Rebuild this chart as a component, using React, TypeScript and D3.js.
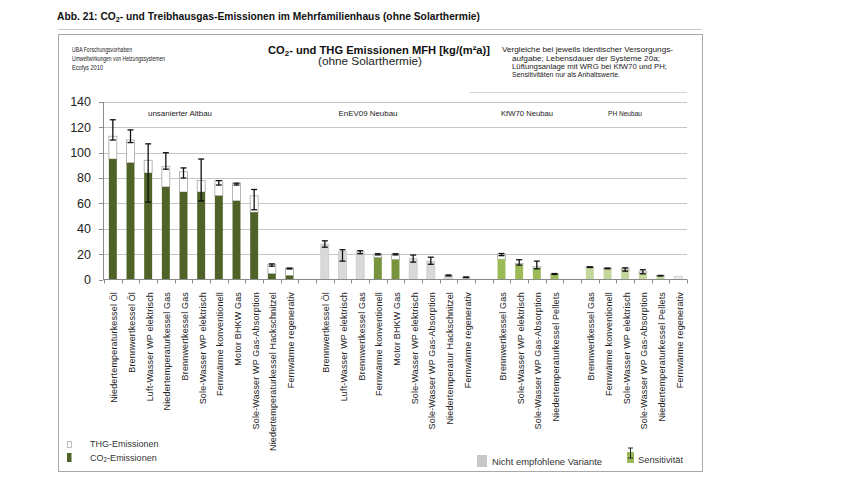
import React from "react";
import * as d3 from "d3";

// ---------- data ----------
const groupNames = ["unsanierter Altbau", "EnEV09 Neubau", "KfW70 Neubau", "PH Neubau"];

const altbauCats = [
  "Niedertemperaturkessel Öl",
  "Brennwertkessel Öl",
  "Luft-Wasser WP elektrisch",
  "Niedertemperaturkessel Gas",
  "Brennwertkessel Gas",
  "Sole-Wasser WP elektrisch",
  "Fernwärme konventionell",
  "Motor BHKW Gas",
  "Sole-Wasser WP Gas-Absorption",
  "Niedertemperaturkessel Hackschnitzel",
  "Fernwärme regenerativ",
];
const altbauCO2 = [95, 92, 84, 73, 69, 69, 66, 62, 53, 4.5, 3];
const altbauTHG = [113, 110, 94, 89, 85, 78, 78, 76, 66, 12, 9];
const altbauErrLo = [110, 108, 61, 87, 80, 62, 74.5, 74.5, 55, 10.5, 8.3];
const altbauErrHi = [126, 118, 107, 100, 88, 95, 78, 76, 71, 12.3, 9];
const altbauKind = ["dark", "dark", "dark", "dark", "dark", "dark", "dark", "dark", "dark", "dark", "dark"];

const enevCats = [
  "Brennwertkessel Öl",
  "Luft-Wasser WP elektrisch",
  "Brennwertkessel Gas",
  "Fernwärme konventionell",
  "Motor BHKW Gas",
  "Sole-Wasser WP elektrisch",
  "Sole-Wasser WP Gas-Absorption",
  "Niedertemperatur Hackschnitzel",
  "Fernwärme regenerativ",
];
const enevCO2 = [28, 22, 22, 17.2, 15.6, 16.5, 14.5, 3.2, 1.8];
const enevTHG = [28, 22, 22, 20, 20, 16.5, 14.5, 3.2, 1.8];
const enevErrLo = [25.5, 14.5, 20.3, 19.4, 19.4, 13.7, 12, 2.8, 1.5];
const enevErrHi = [30.5, 23.5, 22.7, 20.3, 20.3, 19.3, 17.6, 3.6, 2];
const enevKind = ["gray", "gray", "gray", "mid", "mid", "gray", "gray", "gray", "gray"];

const kfwCats = [
  "Brennwertkessel Gas",
  "Sole-Wasser WP elektrisch",
  "Sole-Wasser WP Gas-Absorption",
  "Niedertemperaturkessel Pellets",
];
const kfwCO2 = [16, 11.5, 9, 3.5];
const kfwTHG = [20, 12.5, 10, 4.5];
const kfwErrLo = [18.8, 11.4, 8.4, 4];
const kfwErrHi = [20.5, 15.6, 14.5, 4.7];
const kfwKind = ["light", "light", "light", "light"];

const phCats = [
  "Brennwertkessel Gas",
  "Fernwärme konventionell",
  "Sole-Wasser WP elektrisch",
  "Sole-Wasser WP Gas-Absorption",
  "Niedertemperaturkessel Pellets",
  "Fernwärme regenerativ",
];
const phCO2 = [9, 8, 7.5, 5, 2.5, 2.6];
const phTHG = [10, 9, 8.5, 6, 3, 2.6];
const phErrLo = [9.5, 8.5, 6.6, 4.5, 2.8, NaN];
const phErrHi = [10, 9, 9.2, 7.7, 3.2, NaN];
const phKind = ["pale", "pale", "pale", "pale", "pale", "white"];

const yTicks = [0, 20, 40, 60, 80, 100, 120, 140];

// ---------- build slots ----------
type Slot = {
  key: string;
  group: number;
  cat?: string;
  co2?: number;
  thg?: number;
  lo?: number;
  hi?: number;
  kind?: string;
};

const groupData = [
  [altbauCats, altbauCO2, altbauTHG, altbauErrLo, altbauErrHi, altbauKind],
  [enevCats, enevCO2, enevTHG, enevErrLo, enevErrHi, enevKind],
  [kfwCats, kfwCO2, kfwTHG, kfwErrLo, kfwErrHi, kfwKind],
  [phCats, phCO2, phTHG, phErrLo, phErrHi, phKind],
] as any[];

const slots: Slot[] = [];
groupData.forEach((g: any[], gi: number) => {
  if (gi > 0) slots.push({ key: `gap${gi}`, group: -1 });
  (g[0] as string[]).forEach((c, i) => {
    slots.push({
      key: `${gi}-${i}`,
      group: gi,
      cat: c,
      co2: g[1][i],
      thg: g[2][i],
      lo: g[3][i],
      hi: g[4][i],
      kind: g[5][i],
    });
  });
});

const fills: Record<string, string> = {
  dark: "#4f6228",
  mid: "#77933c",
  light: "#9bbb59",
  pale: "#c3d69b",
  gray: "#d9d9d9",
  white: "#ececec",
};

const FONT = "'Liberation Sans', Arial, sans-serif";

export default function App() {
  const x0 = 104;
  const x1 = 687;
  const x = d3
    .scaleBand<string>()
    .domain(slots.map((s) => s.key))
    .range([x0, x1])
    .paddingInner(0.55)
    .paddingOuter(0.275);
  const y = d3.scaleLinear().domain([0, 140]).range([279.5, 102]);
  const step = x.step();
  const bw = x.bandwidth();

  const groupLabelPos = [
    { x: 180, w: 64 },
    { x: 368, w: 59 },
    { x: 527, w: 52 },
    { x: 625, w: 34 },
  ];

  return (
    <svg
      width={864}
      height={500}
      style={{ position: "absolute", left: 0, top: 0, display: "block", background: "#fff" }}
      fontFamily={FONT}
    >
      {/* document title */}
      <text x={57} y={20} fontSize={10} fontWeight="bold" fill="#111" textLength={423} lengthAdjust="spacingAndGlyphs">
        Abb. 21: CO<tspan fontSize={7} dy={2}>2</tspan>
        <tspan dy={-2}>- und Treibhausgas-Emissionen im Mehrfamilienhaus (ohne Solarthermie)</tspan>
      </text>
      <line x1={58} x2={702} y1={29.5} y2={29.5} stroke="#c8c8c8" strokeWidth={1} />

      {/* frame */}
      <rect x={58.5} y={34.5} width={644} height={437} fill="none" stroke="#a8a8a8" strokeWidth={1} />

      {/* left header */}
      <g fontSize={7} fill="#222">
        <text x={72} y={52} textLength={60} lengthAdjust="spacingAndGlyphs">UBA Forschungsvorhaben</text>
        <text x={72} y={61} textLength={93} lengthAdjust="spacingAndGlyphs">Umweltwirkungen von Heizungssystemen</text>
        <text x={72} y={70} textLength={31} lengthAdjust="spacingAndGlyphs">Ecofys 2010</text>
      </g>

      {/* chart title */}
      <text x={268} y={54} fontSize={10.5} fontWeight="bold" fill="#111" textLength={222} lengthAdjust="spacingAndGlyphs">
        CO<tspan fontSize={7.5} dy={2}>2</tspan>
        <tspan dy={-2}>- und THG Emissionen MFH [kg/(m²a)]</tspan>
      </text>
      <text x={370} y={65} fontSize={10.5} fill="#222" textAnchor="middle" textLength={104} lengthAdjust="spacingAndGlyphs">
        (ohne Solarthermie)
      </text>

      {/* right notes */}
      <g fontSize={6.8} fill="#222">
        <text x={502} y={52} textLength={171} lengthAdjust="spacingAndGlyphs">Vergleiche bei jeweils identischer  Versorgungs-</text>
        <text x={512} y={60.5} textLength={148} lengthAdjust="spacingAndGlyphs">aufgabe; Lebensdauer   der Systeme   20a;</text>
        <text x={512} y={68.5} textLength={155} lengthAdjust="spacingAndGlyphs">Lüftungsanlage   mit WRG bei KfW70 und PH;</text>
        <text x={512} y={76.5} textLength={108} lengthAdjust="spacingAndGlyphs">Sensitivitäten nur als Anhaltswerte.</text>
      </g>
      <line x1={470} x2={687} y1={92.5} y2={92.5} stroke="#d4d4d4" strokeWidth={1} />

      {/* gridlines and y axis */}
      {yTicks.map((t) => (
        <g key={t}>
          {t > 0 && (
            <line x1={103} x2={x1} y1={Math.round(y(t)) + 0.5} y2={Math.round(y(t)) + 0.5} stroke="#c6c6c6" strokeWidth={1} />
          )}
          <line x1={99} x2={103} y1={Math.round(y(t)) + 0.5} y2={Math.round(y(t)) + 0.5} stroke="#8a8a8a" />
          <text x={91} y={y(t)} dy="0.35em" textAnchor="end" fontSize={12.5} fill="#222">
            {t}
          </text>
        </g>
      ))}
      <line x1={103.5} x2={103.5} y1={y(140)} y2={y(0)} stroke="#8a8a8a" />

      {/* group labels */}
      {groupNames.map((g, i) => (
        <text
          key={g}
          x={groupLabelPos[i].x}
          y={116}
          fontSize={7.3}
          fill="#222"
          textAnchor="middle"
          textLength={groupLabelPos[i].w}
          lengthAdjust="spacingAndGlyphs"
        >
          {g}
        </text>
      ))}

      {/* bars */}
      {slots
        .filter((s) => s.cat)
        .map((s) => {
          const bx = x(s.key)!;
          const cx = bx + bw / 2;
          const isGray = s.kind === "gray" || s.kind === "white";
          return (
            <g key={s.key}>
              {isGray ? (
                <rect
                  x={bx}
                  y={y(s.thg!)}
                  width={bw}
                  height={y(0) - y(s.thg!)}
                  fill={fills[s.kind!]}
                  stroke="#c4c4c4"
                  strokeWidth={0.7}
                />
              ) : (
                <>
                  <rect
                    x={bx}
                    y={y(s.thg!)}
                    width={bw}
                    height={y(s.co2!) - y(s.thg!)}
                    fill="#ffffff"
                    stroke="#a6a6a6"
                    strokeWidth={0.8}
                  />
                  <rect
                    x={bx}
                    y={y(s.co2!)}
                    width={bw}
                    height={y(0) - y(s.co2!)}
                    fill={fills[s.kind!]}
                  />
                </>
              )}
              {!isNaN(s.lo!) && s.lo !== undefined && (
                <g stroke="#111" strokeWidth={1.3}>
                  <line x1={cx} x2={cx} y1={y(s.hi!)} y2={y(s.lo!)} />
                  <line x1={cx - 3} x2={cx + 3} y1={y(s.hi!)} y2={y(s.hi!)} />
                  <line x1={cx - 3} x2={cx + 3} y1={y(s.lo!)} y2={y(s.lo!)} />
                </g>
              )}
            </g>
          );
        })}

      {/* x axis */}
      <line x1={103} x2={x1} y1={279.5} y2={279.5} stroke="#8a8a8a" />
      {d3.range(slots.length + 1).map((i) => (
        <line
          key={i}
          x1={Math.round(x0 + i * step) + 0.5}
          x2={Math.round(x0 + i * step) + 0.5}
          y1={279.5}
          y2={283.5}
          stroke="#8a8a8a"
        />
      ))}
      {slots
        .filter((s) => s.cat)
        .map((s) => {
          const cx = x(s.key)! + bw / 2 + 1.5;
          return (
            <text
              key={"l" + s.key}
              transform={`translate(${cx},292) rotate(-90)`}
              textAnchor="end"
              dominantBaseline="central"
              fontSize={9}
              letterSpacing={0.15}
              fill="#222"
            >
              {s.cat}
            </text>
          );
        })}

      {/* legend */}
      <rect x={67.5} y={441.5} width={4} height={6} fill="#fff" stroke="#b0b0b0" strokeWidth={0.8} />
      <text x={90} y={444} dy="0.35em" fontSize={9} fill="#333">THG-Emissionen</text>
      <rect x={67} y={453} width={4.5} height={9} fill={fills.dark} />
      <text x={90} y={457.5} dy="0.35em" fontSize={9} fill="#333">
        CO<tspan fontSize={6.5} dy={1.5}>2</tspan>
        <tspan dy={-1.5}>-Emissionen</tspan>
      </text>

      <rect x={477} y={455} width={10} height={12} fill="#c8c8c8" />
      <text x={492} y={462} dy="0.35em" fontSize={9.3} fill="#333" textLength={110} lengthAdjust="spacingAndGlyphs">
        Nicht empfohlene Variante
      </text>

      <rect x={627} y={452} width={7} height={11} fill="#9bbb59" />
      <g stroke="#222" strokeWidth={1}>
        <line x1={630.5} x2={630.5} y1={448} y2={458} />
        <line x1={628} x2={633} y1={448} y2={448} />
        <line x1={628} x2={633} y1={458} y2={458} />
      </g>
      <text x={638} y={460} dy="0.35em" fontSize={9} fill="#333" textLength={45} lengthAdjust="spacingAndGlyphs">
        Sensitivität
      </text>
    </svg>
  );
}
